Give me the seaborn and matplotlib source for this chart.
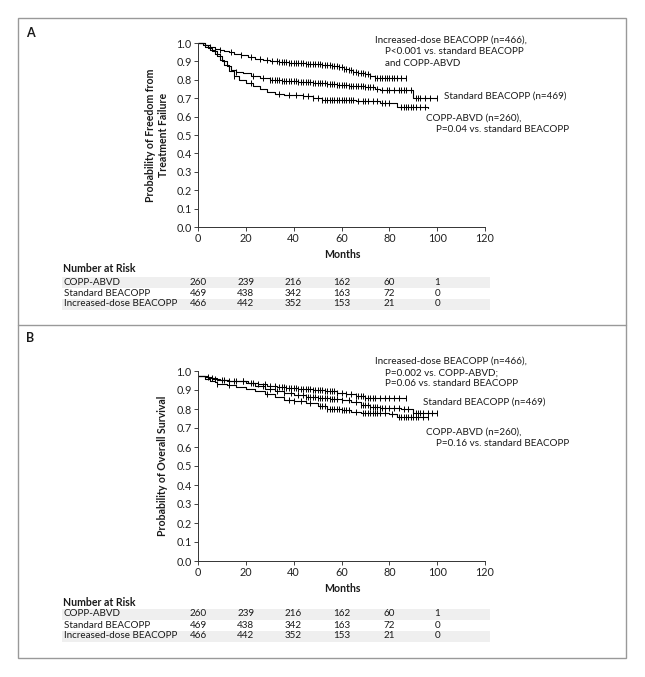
import numpy as np
import pandas as pd
import matplotlib
matplotlib.use("Agg")
import matplotlib.pyplot as plt
import matplotlib.transforms as mtransforms
from matplotlib.patches import Rectangle
from matplotlib.lines import Line2D
import seaborn as sns

# ==========================================
# Data
# ==========================================
arms = ["COPP-ABVD", "Standard BEACOPP", "Increased-dose BEACOPP"]
risk_months = [0, 20, 40, 60, 80, 100]
risk_copp = [260, 239, 216, 162, 60, 1]
risk_std = [469, 438, 342, 163, 72, 0]
risk_inc = [466, 442, 352, 153, 21, 0]

# Panel A: freedom from treatment failure (step points)
a_inc_t = [0, 3, 5, 7, 9, 11, 13, 15, 18, 21, 24, 27, 30, 34, 38, 45, 52, 56, 59, 61, 63, 65, 67, 70, 72, 74, 87]
a_inc_s = [1.0, 0.99, 0.98, 0.97, 0.96, 0.955, 0.95, 0.94, 0.935, 0.925, 0.915, 0.905, 0.90, 0.895, 0.89, 0.885,
           0.88, 0.875, 0.87, 0.86, 0.855, 0.845, 0.835, 0.83, 0.82, 0.81, 0.81]
a_std_t = [0, 2, 4, 6, 8, 10, 12, 14, 16, 19, 22, 26, 30, 35, 42, 48, 54, 58, 63, 70, 74, 76, 90, 100]
a_std_s = [1.0, 0.99, 0.975, 0.955, 0.93, 0.90, 0.875, 0.855, 0.845, 0.835, 0.82, 0.81, 0.80, 0.795, 0.79, 0.78,
           0.775, 0.77, 0.765, 0.76, 0.75, 0.745, 0.70, 0.70]
a_copp_t = [0, 3, 5, 7, 9, 11, 13, 15, 17, 20, 23, 26, 29, 32, 36, 44, 48, 52, 66, 76, 83, 96]
a_copp_s = [1.0, 0.98, 0.96, 0.94, 0.91, 0.88, 0.85, 0.82, 0.80, 0.78, 0.765, 0.75, 0.735, 0.725, 0.72, 0.71,
            0.70, 0.69, 0.685, 0.675, 0.65, 0.645]

a_inc_c = [5, 9, 14, 18, 22, 26, 29, 31, 33, 34, 35, 36, 37, 38, 39, 40, 41, 42, 43, 44, 45, 46, 47, 48, 49, 50,
           51, 52, 53, 54, 55, 56, 57, 58, 59, 60, 61, 62, 63, 64, 65, 66, 67, 68, 69, 70, 71, 72, 74, 75, 76,
           77, 78, 79, 80, 81, 82, 83, 85, 87]
a_std_c = [7, 16, 23, 27, 30, 31, 32, 33, 34, 35, 36, 37, 38, 39, 40, 41, 42, 43, 44, 45, 46, 47, 48, 49, 50,
           51, 52, 53, 54, 55, 56, 57, 58, 59, 60, 61, 62, 63, 64, 65, 66, 67, 68, 69, 70, 71, 72, 73, 75, 77,
           79, 80, 82, 84, 85, 86, 87, 89, 91, 92, 93, 95, 97, 100]
a_copp_c = [15, 22, 34, 38, 41, 44, 46, 48, 50, 52, 53, 54, 55, 56, 57, 58, 59, 60, 61, 62, 63, 64, 65, 67, 69,
            70, 71, 73, 75, 77, 78, 80, 85, 86, 87, 88, 89, 90, 91, 93, 95]

# Panel B: overall survival (step points)
b_inc_t = [0, 3, 6, 9, 13, 17, 21, 25, 29, 33, 37, 42, 48, 53, 58, 62, 66, 70, 87]
b_inc_s = [0.975, 0.97, 0.96, 0.955, 0.95, 0.945, 0.935, 0.93, 0.92, 0.915, 0.91, 0.905, 0.90, 0.895, 0.885,
           0.88, 0.87, 0.86, 0.86]
b_std_t = [0, 4, 8, 12, 16, 20, 24, 28, 32, 36, 40, 45, 50, 55, 60, 64, 68, 72, 76, 85, 90, 100]
b_std_s = [0.975, 0.965, 0.955, 0.95, 0.945, 0.935, 0.92, 0.905, 0.895, 0.885, 0.875, 0.865, 0.86, 0.855,
           0.845, 0.835, 0.82, 0.81, 0.805, 0.80, 0.78, 0.78]
b_copp_t = [0, 3, 5, 7, 8, 12, 16, 20, 24, 28, 32, 36, 40, 45, 50, 54, 60, 64, 68, 80, 83, 96]
b_copp_s = [0.975, 0.96, 0.95, 0.94, 0.93, 0.925, 0.915, 0.905, 0.895, 0.88, 0.865, 0.85, 0.84, 0.83, 0.815,
            0.80, 0.795, 0.785, 0.78, 0.775, 0.76, 0.76]

b_inc_c = [4, 7, 10, 13, 16, 19, 22, 25, 28, 30, 32, 34, 35, 36, 37, 38, 39, 40, 41, 42, 43, 44, 45, 46, 47,
           48, 49, 50, 51, 52, 53, 54, 55, 56, 57, 58, 60, 62, 64, 66, 67, 68, 69, 70, 71, 72, 73, 74, 76, 78,
           80, 82, 84, 87]
b_std_c = [6, 11, 15, 19, 23, 27, 30, 33, 36, 39, 42, 44, 45, 46, 47, 48, 49, 50, 51, 52, 53, 54, 55, 56, 57,
           58, 60, 63, 66, 68, 69, 70, 71, 72, 73, 74, 75, 76, 77, 78, 80, 82, 84, 86, 88, 90, 91, 92, 93, 94,
           96, 98, 100]
b_copp_c = [8, 13, 29, 38, 40, 43, 47, 51, 52, 53, 54, 55, 56, 57, 58, 59, 60, 61, 62, 63, 66, 69, 70, 71, 72,
            73, 74, 75, 76, 78, 81, 84, 85, 86, 87, 88, 89, 90, 91, 92, 94, 96]

W, H = 645, 677
FS = 7.1
TXT = "#1a1a1a"


def fx(px):
    return px / W


def fy(py):
    return 1 - py / H


def curve_frame(ts, ss):
    rows = []
    for arm, t, s in zip(arms, ts, ss):
        rows.append(pd.DataFrame({"arm": arm, "month": t, "prob": s}))
    return pd.concat(rows, ignore_index=True)


def draw_panel(ax, ts, ss, cs, ylabel, ylabel_x):
    df = curve_frame(ts, ss)
    sns.lineplot(data=df, x="month", y="prob", hue="arm", palette={a: "black" for a in arms},
                 estimator=None, sort=False, drawstyle="steps-post", linewidth=0.8,
                 legend=False, ax=ax, clip_on=False)
    # censor marks sit on the step curve
    for t, s, c in zip(ts, ss, cs):
        idx = np.searchsorted(t, c, side="right") - 1
        ax.plot(c, np.array(s)[idx], linestyle="none", marker="|", markersize=5,
                markeredgewidth=0.7, color="black", clip_on=False)
    ax.set_xlim(0, 120)
    ax.set_ylim(0, 1.0)
    ax.set_xticks(range(0, 121, 20))
    ax.set_yticks(np.arange(0, 1.01, 0.1))
    ax.set_yticklabels([f"{v:.1f}" for v in np.arange(0, 1.01, 0.1)])
    ax.set_xlabel("")
    ax.set_ylabel("")
    ax.tick_params(labelsize=7.8, length=3, width=0.6, colors="#222222", pad=1.5)
    for side in ["left", "bottom"]:
        ax.spines[side].set_linewidth(0.7)
        ax.spines[side].set_color("#333333")
    sns.despine(ax=ax)
    fig.text(fx(ylabel_x), (ax.get_position().y0 + ax.get_position().y1) / 2, ylabel,
             rotation=90, ha="center", va="center", fontsize=7.6, fontweight="bold", color=TXT)


def draw_risk(ax, months_y, header_y, row_ys):
    trans = mtransforms.blended_transform_factory(ax.transData, fig.transFigure)
    fig.text(fx(342), fy(months_y), "Months", ha="center", va="center", fontsize=7.6,
             fontweight="bold", color=TXT)
    fig.text(fx(63), fy(header_y), "Number at Risk", ha="left", va="center", fontsize=7.6,
             fontweight="bold", color=TXT)
    for i, (arm, counts) in enumerate(zip(arms, [risk_copp, risk_std, risk_inc])):
        y = row_ys[i]
        if i != 1:
            fig.patches.append(Rectangle((fx(62), fy(y + 5.5)), fx(490) - fx(62), 11 / H,
                                         transform=fig.transFigure, facecolor="#efefef",
                                         edgecolor="none", zorder=-5))
        fig.text(fx(64), fy(y), arm, ha="left", va="center", fontsize=FS, color=TXT, zorder=5)
        for m, n in zip(risk_months, counts):
            ax.text(m, fy(y), str(n), transform=trans, ha="center", va="center", fontsize=FS,
                    color=TXT, clip_on=False, zorder=5)


sns.set_style("ticks")
plt.rcParams["font.family"] = ["Lato", "DejaVu Sans"]

fig = plt.figure(figsize=(W / 100, H / 100), dpi=100)

# outer frame and divider
fig.patches.append(Rectangle((fx(18), fy(658)), fx(626) - fx(18), (658 - 18) / H,
                             transform=fig.transFigure, facecolor="none", edgecolor="#999999",
                             linewidth=1.0, zorder=-5))
fig.lines.append(Line2D([fx(18), fx(626)], [fy(325), fy(325)], transform=fig.transFigure,
                        color="#999999", linewidth=1.0))

axA = fig.add_axes([fx(198), fy(227), fx(485) - fx(198), (227 - 43) / H])
axB = fig.add_axes([fx(198), fy(561), fx(485) - fx(198), (561 - 371) / H])
for ax in (axA, axB):
    ax.patch.set_alpha(0)

draw_panel(axA, [a_copp_t, a_std_t, a_inc_t], [a_copp_s, a_std_s, a_inc_s], [a_copp_c, a_std_c, a_inc_c],
           "Probability of Freedom from\nTreatment Failure", 157)
draw_panel(axB, [b_copp_t, b_std_t, b_inc_t], [b_copp_s, b_std_s, b_inc_s], [b_copp_c, b_std_c, b_inc_c],
           "Probability of Overall Survival", 163)

draw_risk(axA, 255, 269, [282, 293, 304])
draw_risk(axB, 588, 603, [614, 625, 636])

fig.text(fx(26), fy(33), "A", ha="left", va="center", fontsize=9, fontweight="bold", color=TXT)
fig.text(fx(26), fy(338), "B", ha="left", va="center", fontsize=9, fontweight="bold", color=TXT)

# panel A annotations
fig.text(fx(375), fy(40), "Increased-dose BEACOPP (n=466),", fontsize=FS, va="center", color=TXT)
fig.text(fx(385), fy(52), "P<0.001 vs. standard BEACOPP", fontsize=FS, va="center", color=TXT)
fig.text(fx(385), fy(63), "and COPP-ABVD", fontsize=FS, va="center", color=TXT)
fig.text(fx(444), fy(96), "Standard BEACOPP (n=469)", fontsize=FS, va="center", color=TXT)
fig.text(fx(426), fy(118), "COPP-ABVD (n=260),", fontsize=FS, va="center", color=TXT)
fig.text(fx(436), fy(129), "P=0.04 vs. standard BEACOPP", fontsize=FS, va="center", color=TXT)

# panel B annotations
fig.text(fx(375), fy(361), "Increased-dose BEACOPP (n=466),", fontsize=FS, va="center", color=TXT)
fig.text(fx(385), fy(373), "P=0.002 vs. COPP-ABVD;", fontsize=FS, va="center", color=TXT)
fig.text(fx(385), fy(384), "P=0.06 vs. standard BEACOPP", fontsize=FS, va="center", color=TXT)
fig.text(fx(423), fy(402), "Standard BEACOPP (n=469)", fontsize=FS, va="center", color=TXT)
fig.text(fx(426), fy(432), "COPP-ABVD (n=260),", fontsize=FS, va="center", color=TXT)
fig.text(fx(436), fy(443), "P=0.16 vs. standard BEACOPP", fontsize=FS, va="center", color=TXT)

fig.savefig("out.png", dpi=100)
